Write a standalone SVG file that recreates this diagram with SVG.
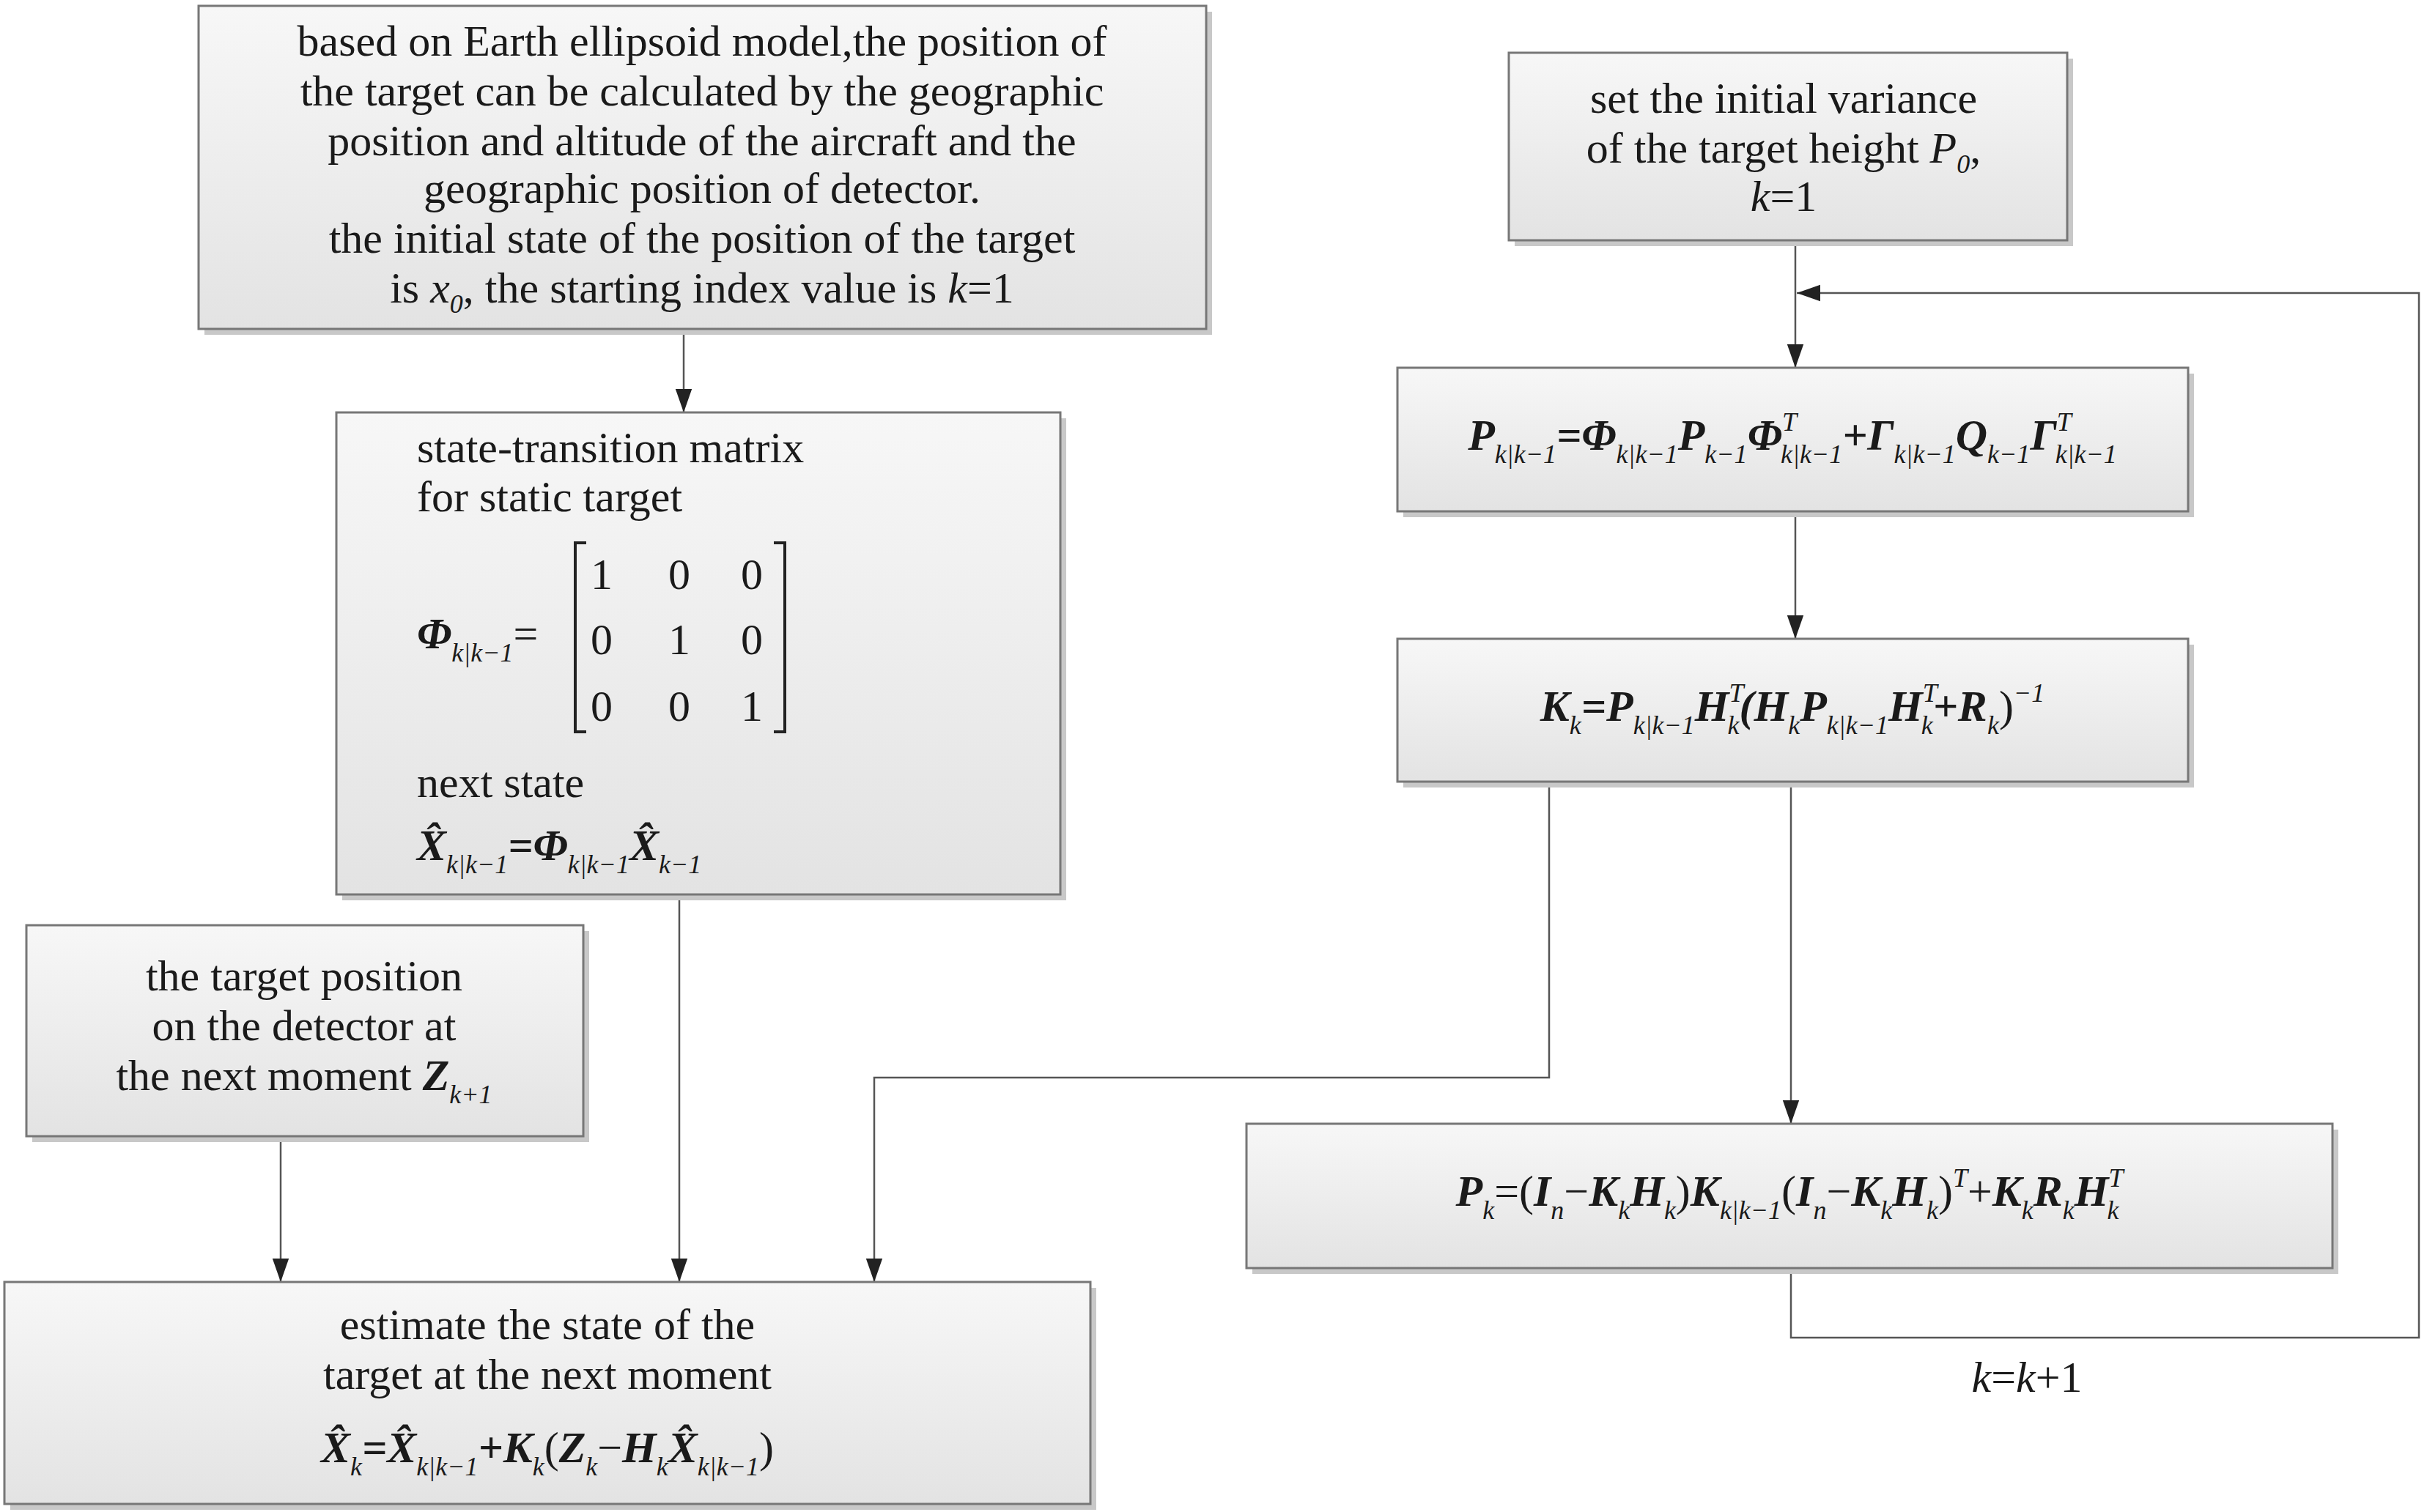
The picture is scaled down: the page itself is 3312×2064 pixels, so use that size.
<svg xmlns="http://www.w3.org/2000/svg" width="3312" height="2064" viewBox="0 0 3312 2064">
<defs>
<linearGradient id="g" x1="0" y1="0" x2="0" y2="1"><stop offset="0" stop-color="#f7f7f7"/><stop offset="1" stop-color="#e3e3e3"/></linearGradient>
<marker id="a" viewBox="0 0 10 10" refX="10" refY="5" markerWidth="32" markerHeight="32" markerUnits="userSpaceOnUse" orient="auto"><path d="M0,1.5 L10,5 L0,8.5 Z" fill="#222"/></marker>
</defs>
<style>
.box{fill:url(#g);stroke:#777;stroke-width:3}
.sh{fill:#c8c8c8}
.t{font-family:"Liberation Serif",serif;font-size:60px;fill:#1a1a1a}
.bi{font-weight:bold;font-style:italic}
.i{font-style:italic}
.s{font-size:36px;font-style:italic}
.c{stroke:#555;stroke-width:2.5;fill:none}
</style>
<rect width="3312" height="2064" fill="#fff"/>
<g id="connectors">
<path class="c" d="M933,449 V563" marker-end="url(#a)"/>
<path class="c" d="M927,1221 V1750" marker-end="url(#a)"/>
<path class="c" d="M383,1551 V1750" marker-end="url(#a)"/>
<path class="c" d="M2114,1067 V1471 H1193 V1750" marker-end="url(#a)"/>
<path class="c" d="M2450,328 V502" marker-end="url(#a)"/>
<path class="c" d="M2450,698 V872" marker-end="url(#a)"/>
<path class="c" d="M2444,1067 V1534" marker-end="url(#a)"/>
<path class="c" d="M2444,1731 V1826 H3301 V400 H2452" marker-end="url(#a)"/>
</g>
<g id="n1"><rect class="sh" x="279" y="16" width="1375" height="441"/><rect class="box" x="271" y="8" width="1375" height="441"/>
<text class="t" text-anchor="middle"><tspan x="958" y="76">based on Earth ellipsoid model,the position of</tspan><tspan x="958" y="144">the target  can be calculated by the geographic</tspan><tspan x="958" y="212">position and altitude of the aircraft and the</tspan><tspan x="958" y="277">geographic position of detector.</tspan><tspan x="958" y="345">the initial state of the position of the target</tspan><tspan x="958" y="413">is <tspan class="i">x</tspan><tspan class="s" dy="14">0</tspan><tspan dy="-14">, the starting index value is </tspan><tspan class="i">k</tspan>=1</tspan></text></g>
<g id="n2"><rect class="sh" x="467" y="571" width="988" height="658"/><rect class="box" x="459" y="563" width="988" height="658"/>
<text class="t"><tspan x="569" y="631">state-transition matrix</tspan><tspan x="569" y="698">for static target</tspan></text>
<text class="t" x="569" y="885"><tspan class="bi">Φ</tspan><tspan class="s" dy="18">k|k−1</tspan><tspan dy="-18">=</tspan></text>
<path d="M800,741 H785 V999 H800 M1056,741 H1071 V999 H1056" fill="none" stroke="#222" stroke-width="4"/>
<text class="t" text-anchor="middle"><tspan x="821" y="804">1</tspan><tspan x="927" y="804">0</tspan><tspan x="1026" y="804">0</tspan><tspan x="821" y="893">0</tspan><tspan x="927" y="893">1</tspan><tspan x="1026" y="893">0</tspan><tspan x="821" y="984">0</tspan><tspan x="927" y="984">0</tspan><tspan x="1026" y="984">1</tspan></text>
<text class="t" x="569" y="1088">next state</text>
<text class="t" x="569" y="1174"><tspan class="bi">X̂</tspan><tspan class="s" dy="18">k|k−1</tspan><tspan class="bi" dy="-18">=Φ</tspan><tspan class="s" dy="18">k|k−1</tspan><tspan class="bi" dy="-18">X̂</tspan><tspan class="s" dy="18">k−1</tspan></text></g>
<g id="n3"><rect class="sh" x="44" y="1271" width="760" height="288"/><rect class="box" x="36" y="1263" width="760" height="288"/>
<text class="t" text-anchor="middle"><tspan x="415" y="1352">the target position</tspan><tspan x="415" y="1420">on the detector at</tspan><tspan x="415" y="1488">the next moment <tspan class="bi">Z</tspan><tspan class="s" dy="18">k+1</tspan></tspan></text></g>
<g id="n4"><rect class="sh" x="14" y="1758" width="1482" height="303"/><rect class="box" x="6" y="1750" width="1482" height="303"/>
<text class="t" text-anchor="middle"><tspan x="747" y="1828">estimate the state of the</tspan><tspan x="747" y="1896">target at the next moment</tspan></text>
<text class="t" x="747" y="1996" text-anchor="middle"><tspan class="bi">X̂</tspan><tspan class="s" dy="18">k</tspan><tspan class="bi" dy="-18">=X̂</tspan><tspan class="s" dy="18">k|k−1</tspan><tspan class="bi" dy="-18">+K</tspan><tspan class="s" dy="18">k</tspan><tspan dy="-18">(</tspan><tspan class="bi">Z</tspan><tspan class="s" dy="18">k</tspan><tspan dy="-18">−</tspan><tspan class="bi">H</tspan><tspan class="s" dy="18">k</tspan><tspan class="bi" dy="-18">X̂</tspan><tspan class="s" dy="18">k|k−1</tspan><tspan dy="-18">)</tspan></text></g>
<g id="n5"><rect class="sh" x="2067" y="80" width="762" height="256"/><rect class="box" x="2059" y="72" width="762" height="256"/>
<text class="t" text-anchor="middle"><tspan x="2434" y="154">set the initial variance</tspan><tspan x="2434" y="222">of the target height <tspan class="i">P</tspan><tspan class="s" dy="14">0</tspan><tspan dy="-14">,</tspan></tspan><tspan x="2434" y="288"><tspan class="i">k</tspan>=1</tspan></text></g>
<g id="n6"><rect class="sh" x="1915" y="510" width="1079" height="196"/><rect class="box" x="1907" y="502" width="1079" height="196"/>
<text class="t" x="2446" y="614" text-anchor="middle"><tspan class="bi">P</tspan><tspan class="s" dy="18">k|k−1</tspan><tspan class="bi" dy="-18">=Φ</tspan><tspan class="s" dy="18">k|k−1</tspan><tspan class="bi" dy="-18">P</tspan><tspan class="s" dy="18">k−1</tspan><tspan class="bi" dy="-18">Φ</tspan><tspan class="s" dy="-26">T</tspan><tspan class="s" dx="-22" dy="44">k|k−1</tspan><tspan class="bi" dy="-18">+Γ</tspan><tspan class="s" dy="18">k|k−1</tspan><tspan class="bi" dy="-18">Q</tspan><tspan class="s" dy="18">k−1</tspan><tspan class="bi" dy="-18">Γ</tspan><tspan class="s" dy="-26">T</tspan><tspan class="s" dx="-22" dy="44">k|k−1</tspan></text></g>
<g id="n7"><rect class="sh" x="1915" y="880" width="1079" height="195"/><rect class="box" x="1907" y="872" width="1079" height="195"/>
<text class="t" x="2446" y="984" text-anchor="middle"><tspan class="bi">K</tspan><tspan class="s" dy="18">k</tspan><tspan class="bi" dy="-18">=P</tspan><tspan class="s" dy="18">k|k−1</tspan><tspan class="bi" dy="-18">H</tspan><tspan class="s" dy="-26">T</tspan><tspan class="s" dx="-22" dy="44">k</tspan><tspan class="bi" dy="-18">(H</tspan><tspan class="s" dy="18">k</tspan><tspan class="bi" dy="-18">P</tspan><tspan class="s" dy="18">k|k−1</tspan><tspan class="bi" dy="-18">H</tspan><tspan class="s" dy="-26">T</tspan><tspan class="s" dx="-22" dy="44">k</tspan><tspan class="bi" dy="-18">+R</tspan><tspan class="s" dy="18">k</tspan><tspan dy="-18">)</tspan><tspan class="s" dy="-26">−1</tspan></text></g>
<g id="n8"><rect class="sh" x="1709" y="1542" width="1482" height="197"/><rect class="box" x="1701" y="1534" width="1482" height="197"/>
<text class="t" x="2442" y="1646" text-anchor="middle"><tspan class="bi">P</tspan><tspan class="s" dy="18">k</tspan><tspan dy="-18">=(</tspan><tspan class="bi">I</tspan><tspan class="s" dy="18">n</tspan><tspan dy="-18">−</tspan><tspan class="bi">K</tspan><tspan class="s" dy="18">k</tspan><tspan class="bi" dy="-18">H</tspan><tspan class="s" dy="18">k</tspan><tspan dy="-18">)</tspan><tspan class="bi">K</tspan><tspan class="s" dy="18">k|k−1</tspan><tspan dy="-18">(</tspan><tspan class="bi">I</tspan><tspan class="s" dy="18">n</tspan><tspan dy="-18">−</tspan><tspan class="bi">K</tspan><tspan class="s" dy="18">k</tspan><tspan class="bi" dy="-18">H</tspan><tspan class="s" dy="18">k</tspan><tspan dy="-18">)</tspan><tspan class="s" dy="-26">T</tspan><tspan dy="26">+</tspan><tspan class="bi">K</tspan><tspan class="s" dy="18">k</tspan><tspan class="bi" dy="-18">R</tspan><tspan class="s" dy="18">k</tspan><tspan class="bi" dy="-18">H</tspan><tspan class="s" dy="-26">T</tspan><tspan class="s" dx="-22" dy="44">k</tspan></text></g>
<text class="t" x="2766" y="1900" text-anchor="middle"><tspan class="i">k</tspan>=<tspan class="i">k</tspan>+1</text>
</svg>
